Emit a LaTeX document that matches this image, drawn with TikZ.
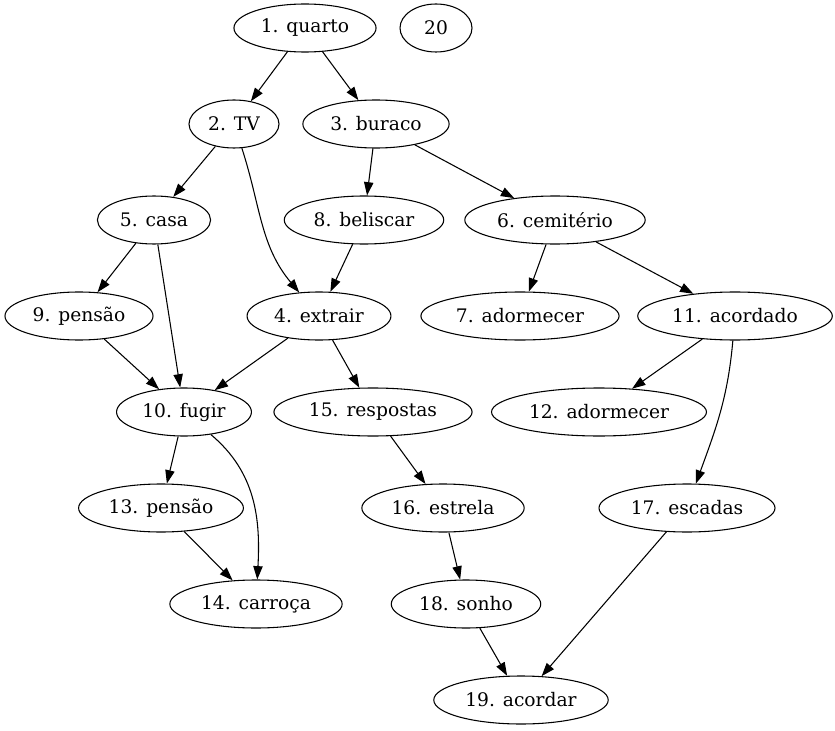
\documentclass[tikz,border=0pt]{standalone}
\usepackage{fontspec}
\setmainfont{DejaVu Serif}
\usetikzlibrary{shapes.geometric,arrows.meta}

\begin{document}
\begin{tikzpicture}[auto,x=0.75pt,y=0.75pt,thick,>={Triangle[length=10pt,width=7pt]},
  vertex/.style={ellipse,draw,minimum width=54pt,minimum height=36pt,inner xsep=4.5pt,font=\fontsize{14}{17}\selectfont}]
\useasboundingbox (0,0) rectangle (835,-731);
\node[vertex] (N1) at (305,-28) {1. quarto};
\node[vertex] (N20) at (436,-28) {20};
\node[vertex] (N2) at (234,-124) {2. TV};
\node[vertex] (N3) at (376,-124) {3. buraco};
\node[vertex] (N5) at (154,-220) {5. casa};
\node[vertex] (N8) at (364,-220) {8. beliscar};
\node[vertex] (N6) at (555,-220) {6. cemitério};
\node[vertex] (N9) at (79,-316) {9. pensão};
\node[vertex] (N4) at (319,-316) {4. extrair};
\node[vertex] (N7) at (520,-316) {7. adormecer};
\node[vertex] (N11) at (735,-316) {11. acordado};
\node[vertex] (N10) at (184,-412) {10. fugir};
\node[vertex] (N15) at (373,-412) {15. respostas};
\node[vertex] (N12) at (599,-412) {12. adormecer};
\node[vertex] (N13) at (161,-508) {13. pensão};
\node[vertex] (N16) at (443,-508) {16. estrela};
\node[vertex] (N17) at (687,-508) {17. escadas};
\node[vertex] (N14) at (256,-604) {14. carroça};
\node[vertex] (N18) at (466,-604) {18. sonho};
\node[vertex] (N19) at (521,-700) {19. acordar};
\path[->]
(N1) edge (N2)
     edge (N3)
(N2) edge (N5)
     edge[out=-72,in=130] (N4)
(N3) edge (N8)
     edge (N6)
(N5) edge (N9)
     edge (N10)
(N8) edge (N4)
(N6) edge (N7)
     edge (N11)
(N9) edge (N10)
(N4) edge (N10)
     edge (N15)
(N11) edge (N12)
      edge[out=-95,in=70] (N17)
(N10) edge (N13)
      edge[out=-40,in=87] (N14)
(N15) edge (N16)
(N13) edge (N14)
(N16) edge (N18)
(N17) edge (N19)
(N18) edge (N19);
\end{tikzpicture}
\end{document}
